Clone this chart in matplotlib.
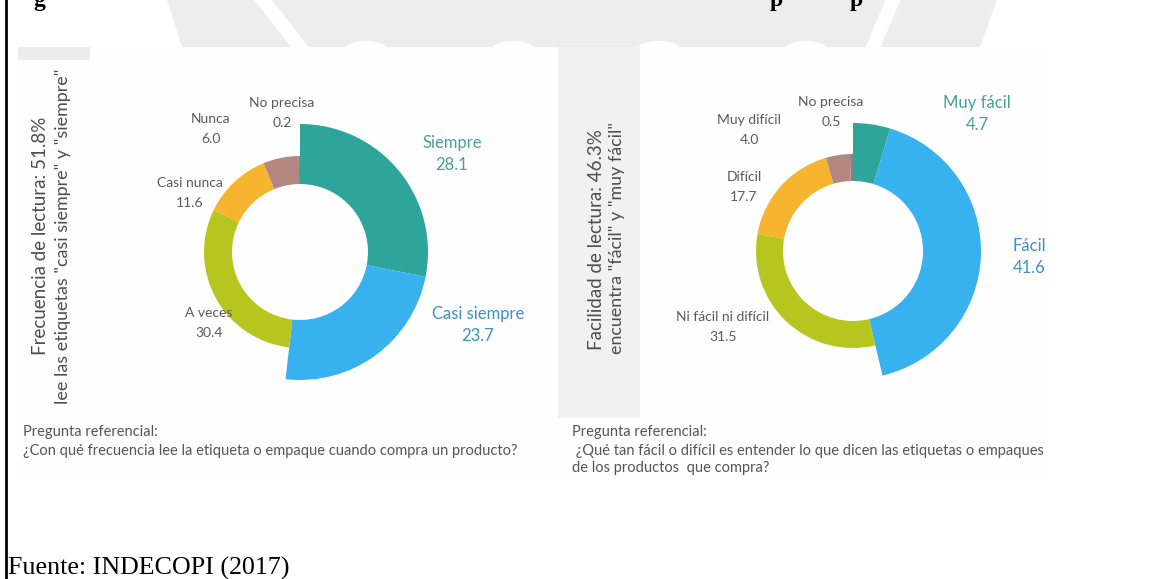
import matplotlib.pyplot as plt
from matplotlib.patches import Polygon, Rectangle, Ellipse

W, H = 1149, 579

# frecuencia de lectura (clockwise from 12 o'clock)
freq_labels = ['Siempre', 'Casi siempre', 'A veces', 'Casi nunca', 'Nunca', 'No precisa']
freq_values = [28.1, 23.7, 30.4, 11.6, 6.0, 0.2]
freq_highlight = [True, True, False, False, False, False]

# facilidad de lectura (clockwise from 12 o'clock)
ease_labels = ['Muy fácil', 'Fácil', 'Ni fácil ni difícil', 'Difícil', 'Muy difícil', 'No precisa']
ease_values = [4.7, 41.6, 31.5, 17.7, 4.0, 0.5]
ease_highlight = [True, True, False, False, False, False]

freq_side = ['Frecuencia de lectura: 51.8%', 'lee las etiquetas "casi siempre" y "siempre"']
ease_side = ['Facilidad de lectura: 46.3%', 'encuentra "fácil" y "muy fácil"']
freq_question = ['Pregunta referencial:',
                 '¿Con qué frecuencia lee la etiqueta o empaque cuando compra un producto?']
ease_question = ['Pregunta referencial:',
                 ' ¿Qué tan fácil o difícil es entender lo que dicen las etiquetas o empaques',
                 'de los productos  que compra?']
source = 'Fuente: INDECOPI (2017)'

slice_colors = ['#2ea59b', '#38b2ef', '#b7c51f', '#f6b42f', '#b3877f', '#8c8088']
label_colors = ['#45a09c', '#3d92c2', '#5a5a5a', '#5a5a5a', '#5a5a5a', '#5a5a5a']
CHART_FONT = ['Lato', 'DejaVu Sans']
PAGE_FONT = ['Liberation Serif', 'DejaVu Serif']


def py(y):
    # page rows run top-down, axes run bottom-up
    return H - y


def donut(ax, values, highlight, cx, cy, r_in, r_small, r_big):
    common = dict(center=(cx, py(cy)), startangle=90, counterclock=False,
                  colors=slice_colors)
    big, _ = ax.pie(values, radius=r_big,
                    wedgeprops=dict(width=r_big - r_in, linewidth=0, zorder=3), **common)
    small, _ = ax.pie(values, radius=r_small,
                      wedgeprops=dict(width=r_small - r_in, linewidth=0, zorder=3), **common)
    for wb, ws, hi in zip(big, small, highlight):
        wb.set_visible(hi)
        ws.set_visible(not hi)


def slice_labels(ax, labels, values, positions, **kw):
    for i, (name, val, (x, y)) in enumerate(zip(labels, values, positions)):
        size = 12 if i < 2 else 10
        gap = 22 if i < 2 else 20
        ha = kw.get('ha', {}).get(i, 'center')
        ax.text(x, py(y), name, ha=ha, va='center', fontsize=size,
                color=label_colors[i], family=CHART_FONT, zorder=4)
        ax.text(x, py(y + gap), f'{val:.1f}', ha=ha, va='center', fontsize=size,
                color=label_colors[i], family=CHART_FONT, zorder=4)


fig = plt.figure(figsize=(W / 100, H / 100), dpi=100)
ax = fig.add_axes([0, 0, 1, 1])

# watermark shield above the pasted figure
ax.add_patch(Polygon([(167, py(0)), (997, py(0)), (980, py(47)), (182, py(47))],
                     closed=True, color='#ededed', lw=0, zorder=0))
ax.plot([263, 300], [py(0), py(47)], color='white', lw=10, zorder=1)
ax.plot([893, 873], [py(0), py(47)], color='white', lw=10, zorder=1)
for bx in [366, 513, 659, 806]:
    ax.add_patch(Ellipse((bx, py(50)), 44, 18, color='white', lw=0, zorder=1))

# pasted figure area
ax.add_patch(Rectangle((18, py(480)), 1027, 433, color='#fefefe', lw=0, zorder=2))
ax.add_patch(Rectangle((558, py(418)), 82, 371, color='#f1f1f1', lw=0, zorder=2))
ax.add_patch(Rectangle((18, py(60)), 72, 13, color='#ececec', lw=0, zorder=2))

donut(ax, freq_values, freq_highlight, 300, 252, 68, 96, 128)
donut(ax, ease_values, ease_highlight, 853, 251, 70, 97, 128)

slice_labels(ax, freq_labels, freq_values,
             [(452, 143), (478, 314), (209, 313), (190, 183), (211, 119), (282, 103)])
slice_labels(ax, ease_labels, ease_values,
             [(977, 103), (1013, 246), (723, 317), (744, 177), (749, 120), (831, 102)],
             ha={1: 'left'})

# side captions
side_kw = dict(rotation=90, ha='center', va='center', color='#4d4d4d',
               family=CHART_FONT, zorder=4)
ax.text(41, py(236), freq_side[0], fontsize=13.5, **side_kw)
ax.text(63, py(236), freq_side[1], fontsize=12.9, **side_kw)
ax.text(596, py(240), ease_side[0], fontsize=13.5, **side_kw)
ax.text(617, py(238), ease_side[1], fontsize=12.9, **side_kw)

# question notes under each chart
for line, y in zip(freq_question, [432, 451]):
    ax.text(23, py(y), line, ha='left', va='center', fontsize=10.5,
            color='#555555', family=CHART_FONT, zorder=4)
for line, y in zip(ease_question, [432, 451, 468]):
    ax.text(572, py(y), line, ha='left', va='center', fontsize=10.5,
            color='#555555', family=CHART_FONT, zorder=4)

# crop edge of the pasted figure
ax.add_patch(Rectangle((1045, py(480)), 104, 433, color='white', lw=0, zorder=5))

# page elements
for gx, ch in [(33, 'g'), (770, 'p'), (850, 'p')]:
    ax.text(gx, py(6), ch, ha='left', va='baseline', fontsize=17,
            fontweight='bold', family=PAGE_FONT, color='black')
ax.text(8, py(575), source, ha='left', va='baseline', fontsize=18.7,
        family=PAGE_FONT, color='black')
ax.plot([6, 6], [0, H], color='black', lw=2, zorder=6)

ax.set_xlim(0, W)
ax.set_ylim(0, H)
ax.axis('off')

fig.savefig('out.png', dpi=100, facecolor='white')
